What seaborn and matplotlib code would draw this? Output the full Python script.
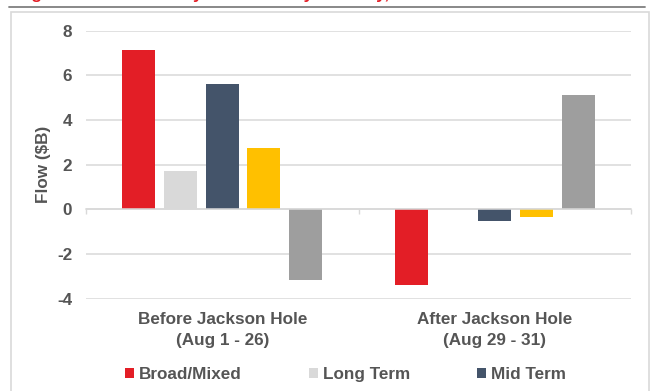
import matplotlib
matplotlib.use("Agg")
import matplotlib.pyplot as plt
from matplotlib.patches import Rectangle
from matplotlib.lines import Line2D
import pandas as pd
import seaborn as sns

# Treasury ETF flows by maturity bucket, around Jackson Hole ($B)
periods = ["Before Jackson Hole\n(Aug 1 - 26)", "After Jackson Hole\n(Aug 29 - 31)"]
segments = ["Broad/Mixed", "Long Term", "Mid Term", "Short Term", "Ultra Short"]
before_flows = [7.14, 1.70, 5.62, 2.75, -3.18]
after_flows = [-3.38, 0.0, -0.54, -0.36, 5.12]
segment_colors = ["#E31E26", "#D9D9D9", "#44546A", "#FFC000", "#9E9E9E"]
legend_segments = ["Broad/Mixed", "Long Term", "Mid Term"]
y_ticks = [-4, -2, 0, 2, 4, 6, 8]
title = "Figure 7: U.S. Treasury ETF flows by maturity, before and after Jackson Hole"

df = pd.DataFrame({
    "period": [periods[0]] * len(segments) + [periods[1]] * len(segments),
    "segment": segments * 2,
    "flow": before_flows + after_flows,
})

sns.set_theme(style="white")
plt.rcParams["font.family"] = ["Liberation Sans", "DejaVu Sans"]
plt.rcParams["font.weight"] = "bold"
text_color = "#555555"
grid_color = "#D9D9D9"
fs = 12.3

W, H = 654, 391
fig = plt.figure(figsize=(W / 100, H / 100), dpi=100)
fig.patch.set_facecolor("white")

# outer frame and heading rule
fig.patches.append(Rectangle((11 / W, -10 / H), 638 / W, (H - 12 + 10) / H,
                             transform=fig.transFigure, fill=False,
                             edgecolor=grid_color, linewidth=1.2))
fig.lines.append(Line2D([9 / W, 645 / W], [1 - 7 / H, 1 - 7 / H],
                        transform=fig.transFigure, color="#7F7F7F", linewidth=1.3))
fig.text(16 / W, 1 + 0.6 / H, title, color="#E31E26", fontsize=fs,
         fontweight="bold", ha="left", va="baseline")

ax = fig.add_axes([86 / W, 1 - 298.7 / H, 545 / W, (298.7 - 30.8) / H])
sns.barplot(data=df, x="period", y="flow", hue="segment", hue_order=segments,
            palette=segment_colors, saturation=1, width=0.765, gap=0.21,
            linewidth=0, ax=ax)

ax.set_ylim(-4, 8)
ax.set_xlim(-0.5, 1.5)
ax.set_yticks(y_ticks)
ax.set_yticklabels([str(v) for v in y_ticks])
ax.yaxis.grid(True, color=grid_color, linewidth=1.1)
ax.xaxis.grid(False)
ax.set_axisbelow(True)

for side in ["top", "right", "left"]:
    ax.spines[side].set_visible(False)
ax.spines["bottom"].set_position(("data", 0))
ax.spines["bottom"].set_color(grid_color)
ax.spines["bottom"].set_linewidth(1.1)

ax.set_xticks([-0.5, 0.5, 1.5], minor=True)
ax.tick_params(axis="x", which="minor", length=3.6, width=1, color=grid_color,
               direction="out", bottom=True)
ax.tick_params(axis="x", which="major", length=0, pad=74, labelsize=fs,
               labelcolor=text_color)
for lab in ax.get_xticklabels():
    lab.set_fontweight("bold")
    lab.set_linespacing(1.45)
ax.tick_params(axis="y", length=0, pad=10, labelsize=fs, labelcolor=text_color)
for lab in ax.get_yticklabels():
    lab.set_fontweight("bold")

ax.set_xlabel("")
ax.set_ylabel("Flow ($B)", fontsize=fs, fontweight="bold", color=text_color,
              labelpad=4)

handles, labels = ax.get_legend_handles_labels()
ax.get_legend().remove()
keep = [labels.index(s) for s in legend_segments]
fig.legend([handles[i] for i in keep], [labels[i] for i in keep],
           loc="upper left", bbox_to_anchor=(125 / W, 1 - 367 / H), ncol=3,
           frameon=False, borderpad=0, borderaxespad=0,
           handlelength=0.53, handleheight=0.53, handletextpad=0.3,
           columnspacing=3.9, prop={"size": fs, "weight": "bold"},
           labelcolor=text_color)

fig.savefig("out.png", dpi=100)
